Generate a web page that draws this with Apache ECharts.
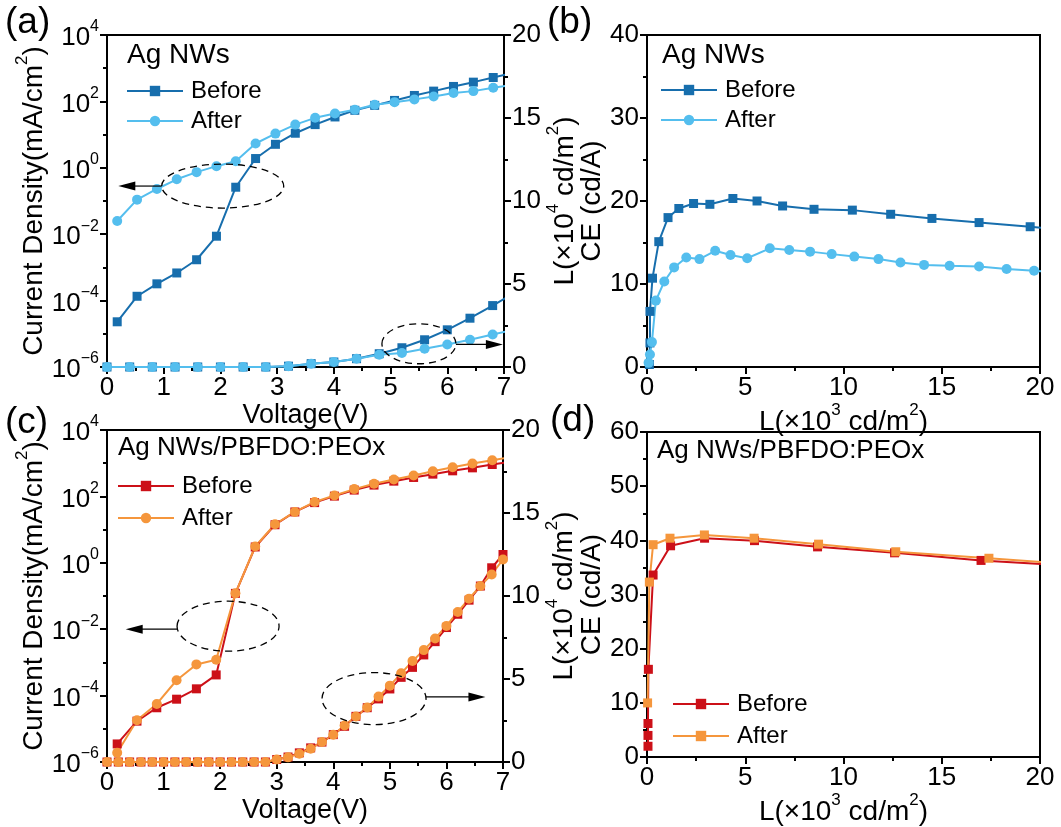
<!DOCTYPE html>
<html>
<head>
<meta charset="utf-8">
<script src="https://cdn.jsdelivr.net/npm/echarts@6/dist/echarts.min.js"></script>
<style>
  html, body { margin: 0; padding: 0; background: #fff; }
  #main { width: 1061px; height: 827px; }
</style>
</head>
<body>
<div id="main"></div>
<script>
const FONT = '"Liberation Sans", Arial, Helvetica, sans-serif'

// (a) Ag NWs : J-V (left, mA/cm2) and L-V (right, x10^4 cd/m2)
const voltJ = [0.18, 0.53, 0.88, 1.23, 1.58, 1.93, 2.27, 2.62, 2.97, 3.32, 3.67, 4.02, 4.37, 4.72, 5.07, 5.42, 5.76, 6.11, 6.46, 6.81, 7.16]
const jBeforeA = [2.3e-5, 1.35e-4, 3.2e-4, 6.8e-4, 1.7e-3, 8.7e-3, 0.26, 1.9, 5.1, 11, 20, 34, 54, 76, 107, 151, 204, 282, 380, 525, 720]
const jAfterA = [0.025, 0.11, 0.23, 0.45, 0.74, 1.12, 1.58, 5.4, 10.7, 20, 32, 43, 56, 79, 95, 115, 141, 178, 204, 257, 320]
const voltLA = [0, 0.4, 0.8, 1.2, 1.6, 2.0, 2.4, 2.8, 3.2, 3.6, 4.0, 4.4, 4.8, 5.2, 5.6, 6.0, 6.4, 6.8, 7.2]
const lumBeforeA = [0, 0, 0, 0, 0, 0, 0, 0, 0.05, 0.2, 0.3, 0.5, 0.8, 1.16, 1.64, 2.24, 2.94, 3.7, 4.5]
const lumAfterA = [0, 0, 0, 0, 0, 0, 0, 0, 0.05, 0.2, 0.3, 0.5, 0.74, 0.84, 1.1, 1.36, 1.64, 1.96, 2.25]

// (b) Ag NWs : CE vs L (x10^3 cd/m2)
const lumBeforeB = [0.12, 0.15, 0.15, 0.28, 0.6, 1.07, 1.62, 2.37, 3.2, 4.37, 5.6, 6.9, 8.5, 10.45, 12.4, 14.5, 16.9, 19.5, 22.5]
const ceBeforeB = [0.3, 2.9, 6.7, 10.7, 15.1, 18.0, 19.1, 19.7, 19.6, 20.3, 20.0, 19.4, 19.0, 18.9, 18.4, 17.9, 17.4, 16.9, 16.3]
const lumAfterB = [0.08, 0.15, 0.25, 0.45, 0.88, 1.38, 2.0, 2.67, 3.47, 4.25, 5.1, 6.25, 7.24, 8.3, 9.4, 10.55, 11.78, 12.9, 14.1, 15.4, 16.9, 18.3, 19.7, 21.2]
const ceAfterB = [0.5, 1.5, 3.0, 8.0, 10.3, 12.0, 13.2, 13.0, 14.0, 13.5, 13.1, 14.3, 14.1, 13.9, 13.6, 13.3, 13.0, 12.6, 12.3, 12.2, 12.1, 11.8, 11.6, 11.3]

// (c) Ag NWs/PBFDO:PEOx : J-V and L-V
const jBeforeC = [3.5e-6, 1.7e-5, 4.3e-5, 7.8e-5, 1.6e-4, 4.2e-4, 0.12, 3.0, 14, 34, 65, 102, 155, 219, 288, 372, 468, 589, 724, 912, 1120]
const jAfterC = [1.9e-6, 1.8e-5, 5.6e-5, 2.9e-4, 8.7e-4, 1.2e-3, 0.12, 3.1, 14.5, 34, 68, 107, 166, 240, 324, 427, 575, 759, 977, 1230, 1550]
const voltLC = [0, 0.2, 0.4, 0.6, 0.8, 1.0, 1.2, 1.4, 1.6, 1.8, 2.0, 2.2, 2.4, 2.6, 2.8, 3.0, 3.2, 3.4, 3.6, 3.8, 4.0, 4.2, 4.4, 4.6, 4.8, 5.0, 5.2, 5.4, 5.6, 5.8, 6.0, 6.2, 6.4, 6.6, 6.8, 7.0]
const lumBeforeC = [0, 0, 0, 0, 0, 0, 0, 0, 0, 0, 0, 0, 0, 0, 0, 0.15, 0.3, 0.55, 0.85, 1.2, 1.65, 2.15, 2.75, 3.27, 3.8, 4.4, 5.1, 5.7, 6.45, 7.25, 8.1, 8.9, 9.75, 10.6, 11.7, 12.5]
const lumAfterC = [0, 0, 0, 0, 0, 0, 0, 0, 0, 0, 0, 0, 0, 0, 0, 0.15, 0.28, 0.5, 0.8, 1.2, 1.64, 2.2, 2.74, 3.28, 3.94, 4.6, 5.34, 6.08, 6.74, 7.44, 8.2, 9.04, 9.84, 10.6, 11.3, 12.2]

// (d) Ag NWs/PBFDO:PEOx : CE vs L
const lumBeforeD = [0.05, 0.05, 0.05, 0.07, 0.31, 1.2, 2.93, 5.47, 8.68, 12.6, 17.0, 21.5]
const ceBeforeD = [2.0, 4.0, 6.2, 16.2, 33.6, 39.0, 40.4, 39.95, 38.8, 37.7, 36.3, 35.3]
const lumAfterD = [0.03, 0.12, 0.31, 1.17, 2.92, 5.45, 8.73, 12.66, 17.4, 21.5]
const ceAfterD = [10.0, 32.3, 39.2, 40.4, 41.0, 40.4, 39.3, 37.9, 36.7, 35.6]

// J axis decades (log10), labels every 2
const jExpMin = -6
const jExpMax = 4

const BLUE = '#176ead'
const SKY = '#54beee'
const RED = '#cc1018'
const ORANGE = '#f5963c'

// superscript rich styles: tick labels (26px) and axis names (28px)
const richTick = {
  t: { fontSize: 26, fontFamily: FONT, color: '#000', lineHeight: 32, verticalAlign: 'bottom' },
  s: { fontSize: 16, fontFamily: FONT, color: '#000', lineHeight: 16, verticalAlign: 'top' }
}
const richName = {
  rich: {
    t: { fontSize: 28, fontFamily: FONT, color: '#000', lineHeight: 34, verticalAlign: 'bottom' },
    s: { fontSize: 17, fontFamily: FONT, color: '#000', lineHeight: 17, verticalAlign: 'top' }
  }
}
const plainName = (size) => ({ fontSize: size, fontFamily: FONT, color: '#000' })

const axisLine = { show: true, onZero: false, lineStyle: { color: '#000', width: 2 } }
const axisTick = { show: true, length: 7, lineStyle: { color: '#000', width: 2 } }
const minorTick = { show: true, splitNumber: 2, length: 4, lineStyle: { color: '#000', width: 2 } }
const label = (margin) => ({ color: '#000', fontSize: 26, fontFamily: FONT, margin })

const pairs = (xs, ys) => xs.map((x, i) => [x, ys[i]])
const logPairs = (xs, ys) => xs.map((x, i) => [x, Math.log10(ys[i])])

function line (name, xi, yi, data, color, symbol, size) {
  return {
    name, type: 'line', xAxisIndex: xi, yAxisIndex: yi, data,
    symbol, symbolSize: size, showSymbol: true,
    itemStyle: { color }, lineStyle: { color, width: 2 }, z: 3
  }
}

function legend (names, left, top, gap) {
  return {
    data: names, orient: 'vertical', left, top, itemWidth: 56, itemHeight: 13, itemGap: gap,
    selectedMode: false,
    textStyle: { fontSize: 24, fontFamily: FONT, color: '#000', padding: [0, 0, 0, 3] },
    formatter: n => n.split('|')[1]
  }
}

const xAxisV = (gi, gap) => ({
  type: 'value', gridIndex: gi, min: 0, max: 7, interval: 1,
  axisLine, axisTick, minorTick, splitLine: { show: false }, axisLabel: label(8),
  name: 'Voltage(V)', nameLocation: 'middle', nameGap: gap, nameTextStyle: plainName(27)
})
const xAxisL = (gi, gap) => ({
  type: 'value', gridIndex: gi, min: 0, max: 20, interval: 5,
  axisLine, axisTick, minorTick, splitLine: { show: false }, axisLabel: label(8),
  name: '{t|L(×10}{s|3}{t| cd/m}{s|2}{t|)}', nameLocation: 'middle', nameGap: gap, nameTextStyle: richName
})
const yAxisJ = (gi) => ({
  type: 'value', gridIndex: gi, position: 'left', min: jExpMin, max: jExpMax, interval: 2,
  axisLine, axisTick, minorTick, splitLine: { show: false },
  axisLabel: {
    margin: 8, rich: richTick,
    formatter: v => '{t|10}{s|' + (v < 0 ? '−' + (-v) : v) + '}'
  },
  name: '{t|Current Density(mA/cm}{s|2}{t|)}', nameLocation: 'middle', nameRotate: 90, nameGap: 59,
  nameTextStyle: richName
})
const yAxisLum = (gi) => ({
  type: 'value', gridIndex: gi, position: 'right', min: 0, max: 20, interval: 5,
  axisLine, axisTick, minorTick, splitLine: { show: false }, axisLabel: label(8),
  name: '{t|L(×10}{s|4}{t| cd/m}{s|2}{t|)}', nameLocation: 'middle', nameRotate: 90, nameGap: 37,
  nameTextStyle: richName
})
const yAxisCE = (gi, max) => ({
  type: 'value', gridIndex: gi, position: 'left', min: 0, max, interval: 10,
  axisLine, axisTick, minorTick, splitLine: { show: false }, axisLabel: label(8),
  name: 'CE (cd/A)', nameLocation: 'middle', nameRotate: 90, nameGap: 41, nameTextStyle: plainName(28)
})

const frame = { show: true, borderColor: '#000', borderWidth: 2, backgroundColor: 'transparent' }

const txt = (text, x, y, size) => ({
  type: 'text', x, y,
  style: { text, fontSize: size, fontFamily: FONT, fill: '#000', align: 'left', verticalAlign: 'middle' }
})
const texts = [
  txt('(a)', 5, 23, 37),
  txt('(b)', 547, 23, 37),
  txt('(c)', 5, 423, 37),
  txt('(d)', 550, 421, 37),
  txt('Ag NWs', 127, 55, 28),
  txt('Ag NWs', 662, 55, 28),
  txt('Ag NWs/PBFDO:PEOx', 118, 448, 26),
  txt('Ag NWs/PBFDO:PEOx', 657, 451, 26)
]

const chart = echarts.init(document.getElementById('main'), null, { renderer: 'canvas' })

const option = {
  animation: false,
  backgroundColor: '#fff',
  grid: [
    { left: 107, top: 35, width: 397, height: 332, ...frame },
    { left: 647, top: 35, width: 393, height: 332, ...frame },
    { left: 107, top: 430, width: 396, height: 332, ...frame },
    { left: 647, top: 432, width: 393, height: 331, ...frame }
  ],
  xAxis: [xAxisV(0, 32), xAxisL(1, 23), xAxisV(2, 31), xAxisL(3, 25)],
  yAxis: [yAxisJ(0), yAxisLum(0), yAxisCE(1, 40), yAxisJ(2), yAxisLum(2), yAxisCE(3, 60)],
  legend: [
    legend(['a|Before', 'a|After'], 121, 74, 6),
    legend(['b|Before', 'b|After'], 655, 73, 6),
    legend(['c|Before', 'c|After'], 112, 469, 8),
    legend(['d|Before', 'd|After'], 667, 687, 8)
  ],
  series: [
    line('a|Before', 0, 0, logPairs(voltJ, jBeforeA), BLUE, 'rect', 9),
    line('a|After', 0, 0, logPairs(voltJ, jAfterA), SKY, 'circle', 10),
    line('a|Before', 0, 1, pairs(voltLA, lumBeforeA), BLUE, 'rect', 9),
    line('a|After', 0, 1, pairs(voltLA, lumAfterA), SKY, 'circle', 10),
    line('b|Before', 1, 2, pairs(lumBeforeB, ceBeforeB), BLUE, 'rect', 9),
    line('b|After', 1, 2, pairs(lumAfterB, ceAfterB), SKY, 'circle', 10),
    line('c|Before', 2, 3, logPairs(voltJ, jBeforeC), RED, 'rect', 9),
    line('c|After', 2, 3, logPairs(voltJ, jAfterC), ORANGE, 'circle', 10),
    line('c|Before', 2, 4, pairs(voltLC, lumBeforeC), RED, 'rect', 9),
    line('c|After', 2, 4, pairs(voltLC, lumAfterC), ORANGE, 'circle', 10),
    line('d|Before', 3, 5, pairs(lumBeforeD, ceBeforeD), RED, 'rect', 9),
    line('d|After', 3, 5, pairs(lumAfterD, ceAfterD), ORANGE, 'rect', 9)
  ],
  graphic: texts
}
chart.setOption(option)

// dashed ellipses with arrows pointing at the matching axis
const notes = [
  { xi: 0, yi: 0, c: [2.04, -0.55], tip: [0.2, -0.55], rx: 61, ry: 22 },
  { xi: 0, yi: 1, c: [5.5, 1.4], tip: [6.98, 1.36], rx: 37, ry: 20 },
  { xi: 2, yi: 3, c: [2.14, -1.91], tip: [0.33, -2.0], rx: 51, ry: 25 },
  { xi: 2, yi: 4, c: [4.72, 3.82], tip: [6.69, 3.92], rx: 52, ry: 26 }
]
const marks = []
notes.forEach(n => {
  const [cx, cy] = chart.convertToPixel({ xAxisIndex: n.xi, yAxisIndex: n.yi }, n.c)
  const [tx, ty] = chart.convertToPixel({ xAxisIndex: n.xi, yAxisIndex: n.yi }, n.tip)
  const dir = tx < cx ? -1 : 1
  const sx = cx + dir * n.rx
  marks.push({ type: 'ellipse', z: 10, shape: { cx, cy, rx: n.rx, ry: n.ry }, style: { fill: 'transparent', stroke: '#000', lineWidth: 1.3, lineDash: [7, 5] } })
  marks.push({ type: 'line', z: 10, shape: { x1: sx, y1: ty, x2: tx - dir * 14, y2: ty }, style: { stroke: '#000', lineWidth: 1.2 } })
  marks.push({ type: 'polygon', z: 10, shape: { points: [[tx, ty], [tx - dir * 17, ty - 4.5], [tx - dir * 17, ty + 4.5]] }, style: { fill: '#000' } })
})
chart.setOption({ graphic: texts.concat(marks) })
</script>
</body>
</html>
